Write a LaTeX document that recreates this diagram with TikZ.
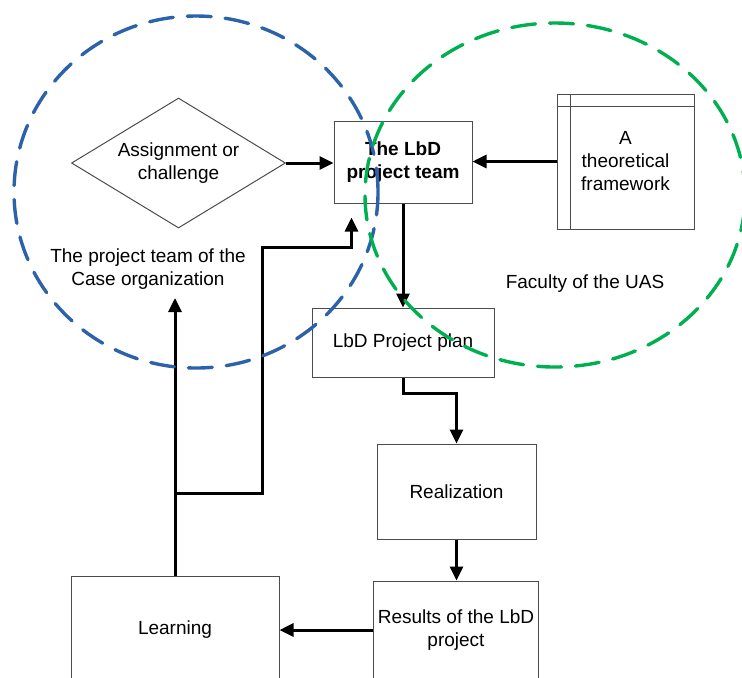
\documentclass[tikz,border=0pt]{standalone}
\usepackage{fontspec}
\setmainfont{Liberation Sans}
\usetikzlibrary{shapes.geometric,arrows.meta}
\definecolor{caseblue}{RGB}{44,98,170}
\definecolor{uasgreen}{RGB}{0,176,80}

\begin{document}
\begin{tikzpicture}[x=0.5pt,y=-0.5pt,
  font=\fontsize{9.5}{11.5}\selectfont,
  box/.style={draw=black!70,line width=0.5pt,align=center,inner sep=0pt},
  arr/.style={line width=1.5pt,-{Triangle[length=7pt,width=6.5pt]}},
  zone/.style={line width=1.7pt,dash pattern=on 12pt off 7pt,line cap=round}]
\clip (0,0) rectangle (742,677);
{
\node[box,shape=diamond,aspect=1.65,minimum width=107pt,minimum height=65pt] (task) at (178.5,163) {Assignment or\\challenge};
\node[box,minimum width=69pt,minimum height=41pt,font=\fontsize{9.5}{11.5}\selectfont\bfseries] (team) at (403,162) {The LbD\\project team};
\node[box,minimum width=68.5pt,minimum height=67.5pt] (frame) at (625.5,161.5) {A\\theoretical\\framework};
\draw[black!70,line width=0.5pt] ([xshift=7pt]frame.north west) -- ([xshift=7pt]frame.south west);
\draw[black!70,line width=0.5pt] ([yshift=-6.5pt]frame.north west) -- ([yshift=-6.5pt]frame.north east);
\node[box,minimum width=91pt,minimum height=34.5pt] (plan) at (403,342.5) {LbD Project plan};
\node[box,minimum width=79.5pt,minimum height=47.5pt] (real) at (456.5,491.5) {Realization};
\node[box,minimum width=82.5pt,minimum height=49pt] (res) at (456,630) {Results of the LbD\\project};
\node[box,minimum width=104pt,minimum height=54pt] (learn) at (175,630) {Learning};
%
\node[align=center] (casetxt) at (148,269.5) {The project team of the\\Case organization};
\node (uastxt) at (585,284) {Faculty of the UAS};
\coordinate (casetop) at (175,298);
\coordinate (split) at (175,493);
%
\draw[arr] (task.east) -- (task.east -| team.west);
\draw[arr] (frame.west) -- (frame.west -| team.east);
\draw[arr] (team.south) -- (plan.north);
\draw[arr] (plan.south) -- ++(0,16) -| (real.north);
\draw[arr] (real.south) -- (real.south |- res.north);
\draw[arr] (res.west) -- (res.west -| learn.east);
\draw[arr] (learn.north) -- (casetop);
\draw[arr,shorten >=7pt] (split) -| (262,247) -| ([xshift=9pt]team.south west);
%
\draw[zone,caseblue] (196,192) ellipse (91pt and 88pt);
\draw[zone,uasgreen] (555,195) ellipse (95pt and 86pt);
}
\end{tikzpicture}
\end{document}
